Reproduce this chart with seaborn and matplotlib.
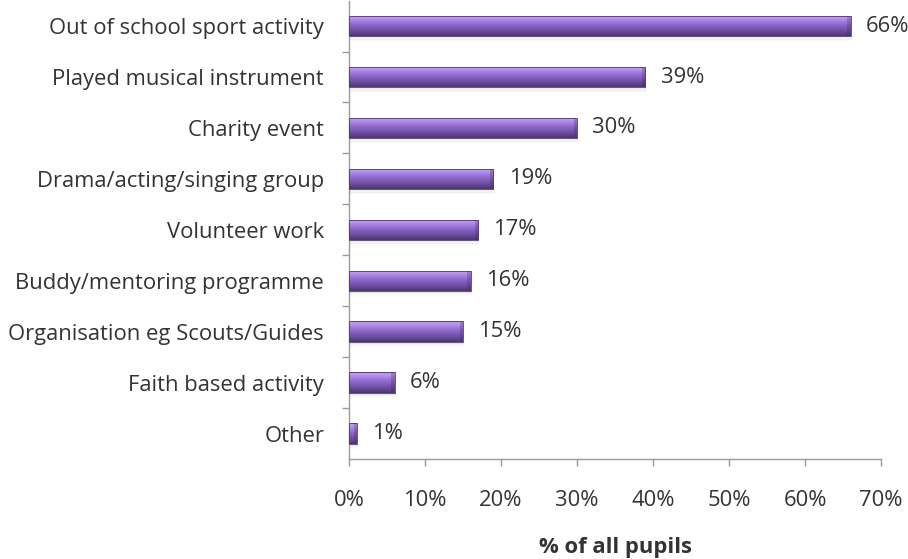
import numpy as np
import pandas as pd
import matplotlib
matplotlib.use("Agg")
import matplotlib.pyplot as plt
from matplotlib.colors import LinearSegmentedColormap
from matplotlib.patches import Rectangle
import seaborn as sns

# Survey results: share of pupils taking part in each activity
categories = [
    "Out of school sport activity",
    "Played musical instrument",
    "Charity event",
    "Drama/acting/singing group",
    "Volunteer work",
    "Buddy/mentoring programme",
    "Organisation eg Scouts/Guides",
    "Faith based activity",
    "Other",
]
values = [66, 39, 30, 19, 17, 16, 15, 6, 1]
x_ticks = [0, 10, 20, 30, 40, 50, 60, 70]
x_tick_labels = [f"{t}%" for t in x_ticks]

df = pd.DataFrame({"activity": categories, "pct": values})

sns.set_theme(style="white")
plt.rcParams["font.family"] = ["Open Sans", "DejaVu Sans"]
text_color = "#333333"
axis_color = "#9a9a9a"
fs = 15.8

fig = plt.figure(figsize=(9.08, 5.59), dpi=100)
ax = fig.add_axes([0.3844, 0.1789, 0.5859, 0.8200])

sns.barplot(data=df, x="pct", y="activity", orient="h", width=0.4,
            color="#8462c0", edgecolor="none", ax=ax, zorder=2)

# Vertical shading gives the bars a rounded, tube-like look (light on top)
tube = LinearSegmentedColormap.from_list(
    "tube",
    [(0.00, "#a48bcc"), (0.08, "#bfa0f0"), (0.22, "#ac88e6"),
     (0.45, "#8e68cc"), (0.70, "#7452aa"), (0.88, "#5e428a"), (1.00, "#4b3566")],
)
grad = np.linspace(0, 1, 64).reshape(-1, 1)
for bar in list(ax.patches):
    x0, y0 = bar.get_x(), bar.get_y()
    w, h = bar.get_width(), bar.get_height()
    # soft drop shadow under each bar
    for k, a in enumerate([0.10, 0.06, 0.03]):
        ax.add_patch(Rectangle((x0 + 0.15, y0 + h + k * 0.03), w, 0.04,
                               facecolor="#555555", alpha=a, edgecolor="none", zorder=1))
    # y axis is inverted, so row 0 of the image sits at the top of the bar
    im = ax.imshow(grad, cmap=tube, aspect="auto",
                   extent=(x0, x0 + w, y0 + h, y0), zorder=3, interpolation="bicubic")
    im.set_clip_path(bar)
    # darker bevel at the bar end
    cap = min(0.45, w * 0.4)
    ax.add_patch(Rectangle((x0 + w - cap, y0), cap, h, facecolor="#3e2a5c",
                           alpha=0.28, edgecolor="none", zorder=4))
    ax.add_patch(Rectangle((x0, y0), w, h, facecolor="none",
                           edgecolor="#4e386c", linewidth=0.6, zorder=5))

# value labels at the end of each bar
for i, v in enumerate(values):
    ax.annotate(f"{v}%", xy=(v, i), xytext=(11, 0), textcoords="offset points",
                va="center", ha="left", fontsize=fs, color=text_color)

ax.set_xlim(0, 70)
ax.set_ylim(len(categories) - 0.5, -0.5)
ax.set_xticks(x_ticks)
ax.set_xticklabels(x_tick_labels)
ax.set_yticks(range(len(categories)))
ax.set_yticklabels(categories)
ax.set_yticks(np.arange(0.5, len(categories) - 0.5, 1.0), minor=True)

ax.tick_params(axis="x", which="major", direction="out", length=5, width=1,
               color=axis_color, labelsize=fs, labelcolor=text_color, pad=17, bottom=True)
ax.tick_params(axis="y", which="major", length=0, labelsize=fs,
               labelcolor=text_color, pad=18)
ax.tick_params(axis="y", which="minor", direction="out", length=5, width=1,
               color=axis_color, left=True)

ax.set_xlabel("% of all pupils", fontsize=fs, fontweight="bold",
              color=text_color, labelpad=19)
ax.set_ylabel("")

for side in ["top", "right"]:
    ax.spines[side].set_visible(False)
for side in ["left", "bottom"]:
    ax.spines[side].set_color(axis_color)
    ax.spines[side].set_linewidth(1.0)

fig.savefig("out.png", dpi=100)
